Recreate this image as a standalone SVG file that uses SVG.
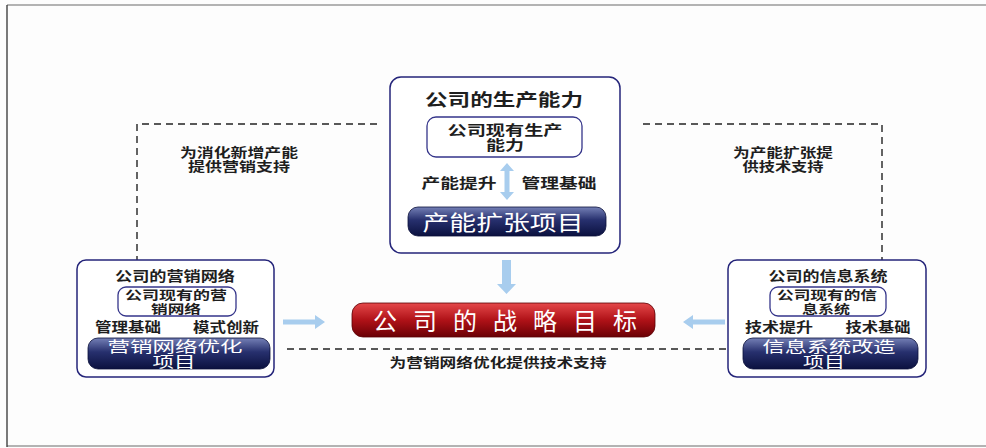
<svg xmlns="http://www.w3.org/2000/svg" width="986" height="448" viewBox="0 0 986 448">
<style>
text{font-family:"Liberation Sans","Noto Sans CJK SC",sans-serif;fill:#1e1e1e;font-weight:bold;text-anchor:middle;dominant-baseline:central}
.outer{fill:#fff;stroke:#25257a;stroke-width:1.5}
.inner{fill:#fff;stroke:#35358a;stroke-width:1.3}
.bar{fill:url(#gBlue);stroke:#0a0f3a;stroke-width:0.8}
.barT{fill:#fff;font-weight:normal}
.dash{fill:none;stroke:#222;stroke-width:1.4;stroke-dasharray:7,5}
.lbl{font-size:13px}
.arr{fill:#a8cdee}
</style>
<defs>
<linearGradient id="gBlue" x1="0" y1="0" x2="0" y2="1">
<stop offset="0" stop-color="#7480b6"/>
<stop offset="0.45" stop-color="#27306e"/>
<stop offset="1" stop-color="#0b113f"/>
</linearGradient>
<linearGradient id="gRed" x1="0" y1="0" x2="0" y2="1">
<stop offset="0" stop-color="#e5484a"/>
<stop offset="0.5" stop-color="#b01218"/>
<stop offset="1" stop-color="#6a0005"/>
</linearGradient>
</defs>
<rect width="986" height="448" fill="#fdfdfd"/>
<line x1="7" y1="5" x2="986" y2="5" stroke="#9a9a9a" stroke-width="1.5"/>
<line x1="7" y1="446" x2="986" y2="446" stroke="#9a9a9a" stroke-width="1.5"/>
<line x1="7" y1="5" x2="7" y2="447" stroke="#333" stroke-width="1.3"/>

<g id="connectors">
<path class="dash" d="M377,124 H137 V260"/>
<path class="dash" d="M643,124 H882 V260"/>
<path class="dash" d="M287,349 H728"/>
<text class="lbl" x="239" y="152" textLength="118" lengthAdjust="spacingAndGlyphs">为消化新增产能</text>
<text class="lbl" x="239" y="166" textLength="102" lengthAdjust="spacingAndGlyphs">提供营销支持</text>
<text class="lbl" x="783" y="152" textLength="100" lengthAdjust="spacingAndGlyphs">为产能扩张提</text>
<text class="lbl" x="783" y="166" textLength="81" lengthAdjust="spacingAndGlyphs">供技术支持</text>
<text class="lbl" x="498" y="362" textLength="217" lengthAdjust="spacingAndGlyphs">为营销网络优化提供技术支持</text>
<polygon class="arr" points="502,260 511,260 511,284 516,284 506.5,294 497,284 502,284"/>
<polygon class="arr" points="283,319.5 315,319.5 315,315 325,322 315,329 315,324.5 283,324.5"/>
<polygon class="arr" points="725,319.5 693,319.5 693,315 683,322 693,329 693,324.5 725,324.5"/>
</g>

<g id="node-capacity">
<rect class="outer" x="390" y="77" width="230" height="176" rx="11"/>
<text x="504" y="100" font-size="17" textLength="158" lengthAdjust="spacingAndGlyphs">公司的生产能力</text>
<rect class="inner" x="427" y="117" width="155" height="40" rx="9"/>
<text x="505" y="130" font-size="14" textLength="115" lengthAdjust="spacingAndGlyphs">公司现有生产</text>
<text x="505" y="145" font-size="14" textLength="38" lengthAdjust="spacingAndGlyphs">能力</text>
<polygon class="arr" points="507,163 514,171 509.5,171 509.5,192 514,192 507,200 500,192 504.5,192 504.5,171 500,171"/>
<text x="459" y="183" font-size="14" textLength="75" lengthAdjust="spacingAndGlyphs">产能提升</text>
<text x="559" y="183" font-size="14" textLength="75" lengthAdjust="spacingAndGlyphs">管理基础</text>
<rect class="bar" x="408" y="207" width="198" height="29" rx="10"/>
<text class="barT" x="503" y="222" font-size="21" textLength="161" lengthAdjust="spacingAndGlyphs">产能扩张项目</text>
</g>

<g id="node-goal">
<rect x="352" y="303" width="303" height="34" rx="11" fill="url(#gRed)" stroke="#5a0004" stroke-width="0.8"/>
<text class="barT" x="505" y="321" font-size="24" textLength="264">公司的战略目标</text>
</g>

<g id="node-marketing">
<rect class="outer" x="77" y="260" width="197" height="117" rx="9"/>
<text x="175" y="276" font-size="13.5" textLength="120" lengthAdjust="spacingAndGlyphs">公司的营销网络</text>
<rect class="inner" x="118" y="287" width="118" height="29" rx="8"/>
<text x="176" y="296" font-size="12.5" textLength="102" lengthAdjust="spacingAndGlyphs">公司现有的营</text>
<text x="176" y="309.5" font-size="12.5" textLength="50" lengthAdjust="spacingAndGlyphs">销网络</text>
<text x="128" y="327" font-size="13.5" textLength="66" lengthAdjust="spacingAndGlyphs">管理基础</text>
<text x="226" y="327" font-size="13.5" textLength="66" lengthAdjust="spacingAndGlyphs">模式创新</text>
<rect class="bar" x="88" y="338" width="182" height="31" rx="10"/>
<text class="barT" x="175" y="346.5" font-size="14.5" textLength="135" lengthAdjust="spacingAndGlyphs">营销网络优化</text>
<text class="barT" x="174" y="361.5" font-size="14.5" textLength="43" lengthAdjust="spacingAndGlyphs">项目</text>
</g>

<g id="node-info">
<rect class="outer" x="728" y="260" width="198" height="117" rx="9"/>
<text x="828" y="276" font-size="13.5" textLength="119" lengthAdjust="spacingAndGlyphs">公司的信息系统</text>
<rect class="inner" x="770" y="287" width="116" height="29" rx="8"/>
<text x="827" y="296" font-size="12.5" textLength="100" lengthAdjust="spacingAndGlyphs">公司现有的信</text>
<text x="826" y="309.5" font-size="12.5" textLength="48" lengthAdjust="spacingAndGlyphs">息系统</text>
<text x="779" y="327" font-size="13.5" textLength="68" lengthAdjust="spacingAndGlyphs">技术提升</text>
<text x="878" y="327" font-size="13.5" textLength="65" lengthAdjust="spacingAndGlyphs">技术基础</text>
<rect class="bar" x="743" y="338" width="175" height="31" rx="10"/>
<text class="barT" x="829" y="346.5" font-size="14.5" textLength="133" lengthAdjust="spacingAndGlyphs">信息系统改造</text>
<text class="barT" x="824" y="361.5" font-size="14.5" textLength="42" lengthAdjust="spacingAndGlyphs">项目</text>
</g>
</svg>
